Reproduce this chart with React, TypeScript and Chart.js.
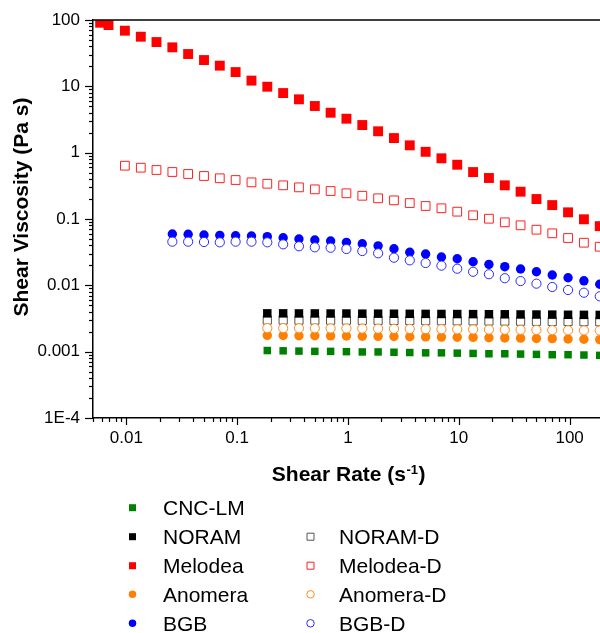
import React, { useEffect, useRef } from 'react';
import { Chart, registerables } from 'chart.js';

Chart.register(...registerables);

const FONT = '"Liberation Sans", Arial, Helvetica, sans-serif';

// ---- data ----
const shearRate = [
  0.0097, 0.0135, 0.0187, 0.026, 0.0361, 0.0502, 0.0697, 0.0968, 0.1346, 0.187,
  0.26, 0.361, 0.502, 0.697, 0.968, 1.346, 1.87, 2.6, 3.61, 5.02,
  6.97, 9.68, 13.46, 18.7, 26, 36.1, 50.2, 69.7, 96.8, 134.6, 187,
];
const melodeaRate = [0.0058, 0.0069, ...shearRate];
const bgbRate = shearRate.slice(3);
const lowRate = shearRate.slice(9);

const melodea = [
  91, 84, 69, 56, 46.5, 38.7, 30.7, 24.9, 20.5, 16.4, 12.2, 9.87, 7.92, 6.37,
  5.05, 4.0, 3.25, 2.61, 2.1, 1.66, 1.29, 1.03, 0.822, 0.658, 0.51, 0.415, 0.322,
  0.258, 0.2, 0.162, 0.126, 0.099, 0.078,
];
const melodeaD = [
  0.636, 0.593, 0.548, 0.511, 0.477, 0.445, 0.411, 0.387, 0.357, 0.34, 0.322, 0.3,
  0.28, 0.264, 0.244, 0.224, 0.205, 0.191, 0.174, 0.157, 0.145, 0.129, 0.1137,
  0.101, 0.0891, 0.0803, 0.069, 0.0608, 0.0517, 0.0439, 0.0382,
];
const bgb = [
  0.0594, 0.0588, 0.0573, 0.0567, 0.056, 0.0554, 0.0541, 0.0522, 0.0499, 0.0482,
  0.0466, 0.0445, 0.0424, 0.0394, 0.0356, 0.0315, 0.0297, 0.0267, 0.0252, 0.0227,
  0.0207, 0.0191, 0.0176, 0.016, 0.0143, 0.013, 0.0117, 0.0104,
];
const bgbD = [
  0.0455, 0.0455, 0.045, 0.0445, 0.0455, 0.0455, 0.0445, 0.0415, 0.0388, 0.0374,
  0.0369, 0.0353, 0.0329, 0.0304, 0.0261, 0.0238, 0.0217, 0.0198, 0.0178, 0.016,
  0.0147, 0.0128, 0.0116, 0.0106, 0.00944, 0.0085, 0.00774, 0.00683,
];
const noram = [
  0.00378, 0.00378, 0.00377, 0.00377, 0.00376, 0.00376, 0.00374, 0.00374, 0.00373,
  0.00372, 0.00371, 0.0037, 0.00369, 0.00368, 0.00367, 0.00366, 0.00364, 0.00363,
  0.00362, 0.0036, 0.00359, 0.00358,
];
const noramD = [
  0.003, 0.003, 0.00299, 0.00299, 0.00298, 0.00298, 0.00297, 0.00297, 0.00296,
  0.00295, 0.00294, 0.00293, 0.00292, 0.00291, 0.0029, 0.00289, 0.00288, 0.00287,
  0.00286, 0.00285, 0.00284, 0.00283,
];
const anomeraD = [
  0.00226, 0.00226, 0.00225, 0.00225, 0.00224, 0.00224, 0.00223, 0.00222, 0.00221,
  0.0022, 0.00219, 0.00218, 0.00217, 0.00216, 0.00215, 0.00214, 0.00213, 0.00212,
  0.00211, 0.0021, 0.00209, 0.00208,
];
const anomera = [
  0.00176, 0.00175, 0.00174, 0.00174, 0.00173, 0.00172, 0.00171, 0.0017, 0.00169,
  0.00168, 0.00167, 0.00166, 0.00165, 0.00164, 0.00162, 0.00161, 0.0016, 0.00158,
  0.00157, 0.00155, 0.00154, 0.00152,
];
const cncLM = [
  0.00104, 0.00103, 0.00102, 0.00101, 0.00101, 0.001, 0.00099, 0.00099, 0.00098,
  0.00097, 0.00096, 0.00096, 0.00095, 0.00094, 0.00093, 0.00093, 0.00092, 0.00091,
  0.0009, 0.0009, 0.00089, 0.00088,
];

const xTickValues = [0.01, 0.1, 1, 10, 100];
const xTickLabels = ['0.01', '0.1', '1', '10', '100'];
const yTickValues = [1e-4, 1e-3, 1e-2, 0.1, 1, 10, 100];
const yTickLabels = ['1E-4', '0.001', '0.01', '0.1', '1', '10', '100'];

type Series = {
  label: string;
  xs: number[];
  ys: number[];
  color: string;
  style: 'rect' | 'circle';
  filled: boolean;
  radius: number;
};

// index 0 is drawn on top
const series: Series[] = [
  { label: 'BGB-D', xs: bgbRate, ys: bgbD, color: '#2a2aff', style: 'circle', filled: false, radius: 4.6 },
  { label: 'Anomera-D', xs: lowRate, ys: anomeraD, color: '#ff8a1a', style: 'circle', filled: false, radius: 4.6 },
  { label: 'Melodea-D', xs: shearRate, ys: melodeaD, color: '#ff2020', style: 'rect', filled: false, radius: 6.2 },
  { label: 'NORAM', xs: lowRate, ys: noram, color: '#000000', style: 'rect', filled: true, radius: 6 },
  { label: 'NORAM-D', xs: lowRate, ys: noramD, color: '#555555', style: 'rect', filled: false, radius: 5.8 },
  { label: 'BGB', xs: bgbRate, ys: bgb, color: '#0000ff', style: 'circle', filled: true, radius: 4.7 },
  { label: 'Anomera', xs: lowRate, ys: anomera, color: '#ff8000', style: 'circle', filled: true, radius: 4.7 },
  { label: 'Melodea', xs: melodeaRate, ys: melodea, color: '#ff0000', style: 'rect', filled: true, radius: 7 },
  { label: 'CNC-LM', xs: lowRate, ys: cncLM, color: '#008000', style: 'rect', filled: true, radius: 5.3 },
];

const legendLeft = ['CNC-LM', 'NORAM', 'Melodea', 'Anomera', 'BGB'];
const legendRight = ['', 'NORAM-D', 'Melodea-D', 'Anomera-D', 'BGB-D'];

function labelFor(values: number[], labels: string[], v: number): string {
  const i = values.findIndex((t) => Math.abs(Math.log10(t) - Math.log10(v)) < 1e-6);
  return i >= 0 ? labels[i] : '';
}

function drawMarker(ctx: CanvasRenderingContext2D, s: Series, x: number, y: number, size: number) {
  ctx.save();
  ctx.beginPath();
  if (s.style === 'rect') {
    ctx.rect(x - size / 2, y - size / 2, size, size);
  } else {
    ctx.arc(x, y, size / 2, 0, Math.PI * 2);
  }
  if (s.filled) {
    ctx.fillStyle = s.color;
    ctx.fill();
  } else {
    ctx.fillStyle = '#ffffff';
    ctx.fill();
    ctx.strokeStyle = s.color;
    ctx.lineWidth = 1;
    ctx.stroke();
  }
  ctx.restore();
}

const decorPlugin = {
  id: 'decor',
  afterDraw(chart: any) {
    const ctx: CanvasRenderingContext2D = chart.ctx;
    const { left, right, top, bottom } = chart.chartArea;
    const xs = chart.scales.x;
    const ys = chart.scales.y;
    ctx.save();
    ctx.strokeStyle = '#000';
    // top frame line
    ctx.lineWidth = 1.5;
    ctx.beginPath();
    ctx.moveTo(left - 0.75, top);
    ctx.lineTo(right, top);
    ctx.stroke();

    const tickInfo = (v: number) => {
      const e = Math.floor(Math.log10(v) + 1e-9);
      const m = v / Math.pow(10, e);
      const r = Math.round(m);
      if (Math.abs(m - r) > 1e-6) return null;
      return { major: r === 1 || r === 10 };
    };
    ctx.lineWidth = 1.2;
    for (const t of xs.ticks) {
      const info = tickInfo(t.value);
      if (!info) continue;
      const px = Math.round(xs.getPixelForValue(t.value)) + 0.5;
      if (px < left - 1 || px > right) continue;
      const len = info.major ? 7 : 4;
      ctx.beginPath();
      ctx.moveTo(px, bottom);
      ctx.lineTo(px, bottom + len);
      ctx.stroke();
    }
    for (const t of ys.ticks) {
      const info = tickInfo(t.value);
      if (!info) continue;
      const py = Math.round(ys.getPixelForValue(t.value)) + 0.5;
      const len = info.major ? 8 : 4;
      ctx.beginPath();
      ctx.moveTo(left, py);
      ctx.lineTo(left - len, py);
      ctx.stroke();
    }

    // y axis title
    ctx.fillStyle = '#000';
    ctx.save();
    ctx.translate(22, 207);
    ctx.rotate(-Math.PI / 2);
    ctx.font = `bold 21px ${FONT}`;
    ctx.textAlign = 'center';
    ctx.textBaseline = 'middle';
    ctx.fillText('Shear Viscosity (Pa s)', 0, 0);
    ctx.restore();

    // x axis title with superscript
    const mainFont = `bold 21px ${FONT}`;
    const supFont = `bold 13px ${FONT}`;
    ctx.font = mainFont;
    const p1 = 'Shear Rate (s';
    const p3 = ')';
    const w1 = ctx.measureText(p1).width;
    const w3 = ctx.measureText(p3).width;
    ctx.font = supFont;
    const p2 = '-1';
    const w2 = ctx.measureText(p2).width;
    const total = w1 + w2 + 1 + w3;
    const x0 = 348.7 - total / 2;
    const base = 481;
    ctx.textAlign = 'left';
    ctx.textBaseline = 'alphabetic';
    ctx.font = mainFont;
    ctx.fillText(p1, x0, base);
    ctx.font = supFont;
    ctx.fillText(p2, x0 + w1 + 0.5, base - 7);
    ctx.font = mainFont;
    ctx.fillText(p3, x0 + w1 + w2 + 1, base);

    // legend
    const rowsY = [507.7, 536.7, 565.7, 594.3, 623.3];
    ctx.font = `21px ${FONT}`;
    ctx.fillStyle = '#000';
    const drawEntry = (name: string, mx: number, tx: number, y: number) => {
      if (!name) return;
      const s = series.find((q) => q.label === name);
      if (!s) return;
      drawMarker(ctx, s, mx, y, s.style === 'rect' ? 7 : 7.5);
      ctx.fillStyle = '#000';
      ctx.fillText(name, tx, y + 7.6);
    };
    legendLeft.forEach((n, i) => drawEntry(n, 132.5, 163, rowsY[i]));
    legendRight.forEach((n, i) => drawEntry(n, 310.5, 339, rowsY[i]));
    ctx.restore();
  },
};

export default function App() {
  const ref = useRef<HTMLCanvasElement | null>(null);
  useEffect(() => {
    if (!ref.current) return;
    const chart = new Chart(ref.current, {
      type: 'scatter',
      data: {
        datasets: series.map((s) => ({
          label: s.label,
          data: s.xs.map((x, i) => ({ x, y: s.ys[i] })),
          pointStyle: s.style,
          pointRadius: s.radius,
          pointHoverRadius: s.radius,
          pointBackgroundColor: s.filled ? s.color : '#ffffff',
          pointBorderColor: s.color,
          pointBorderWidth: s.filled ? 0 : 1,
          showLine: false,
          clip: 0,
        })),
      },
      options: {
        responsive: false,
        animation: false,
        devicePixelRatio: 1,
        layout: { autoPadding: false, padding: { top: 20, right: 0, left: 0, bottom: 0 } },
        plugins: { legend: { display: false }, tooltip: { enabled: false } },
        scales: {
          x: {
            type: 'logarithmic',
            position: 'bottom',
            min: 0.005,
            max: 188,
            grid: { display: true, drawOnChartArea: false, drawTicks: false },
            border: { display: true, color: '#000', width: 1.5 },
            ticks: {
              autoSkip: false,
              maxRotation: 0,
              minRotation: 0,
              padding: 10,
              color: '#000',
              font: { family: FONT, size: 17 },
              callback: (v: any) => labelFor(xTickValues, xTickLabels, Number(v)),
            },
            afterFit: (s: any) => {
              s.height = 215;
              s.paddingLeft = 0;
              s.paddingRight = 0;
            },
          },
          y: {
            type: 'logarithmic',
            position: 'left',
            min: 1e-4,
            max: 100,
            grid: { display: true, drawOnChartArea: false, drawTicks: false },
            border: { display: true, color: '#000', width: 1.5 },
            ticks: {
              autoSkip: false,
              padding: 13,
              color: '#000',
              font: { family: FONT, size: 17 },
              callback: (v: any) => labelFor(yTickValues, yTickLabels, Number(v)),
            },
            afterFit: (s: any) => {
              s.width = 93;
              s.paddingTop = 0;
              s.paddingBottom = 0;
            },
          },
        },
      } as any,
      plugins: [decorPlugin],
    });
    return () => chart.destroy();
  }, []);
  return (
    <div style={{ position: 'absolute', left: 0, top: 0, width: 600, height: 633, background: '#fff' }}>
      <canvas ref={ref} width={600} height={633} style={{ display: 'block' }} />
    </div>
  );
}
